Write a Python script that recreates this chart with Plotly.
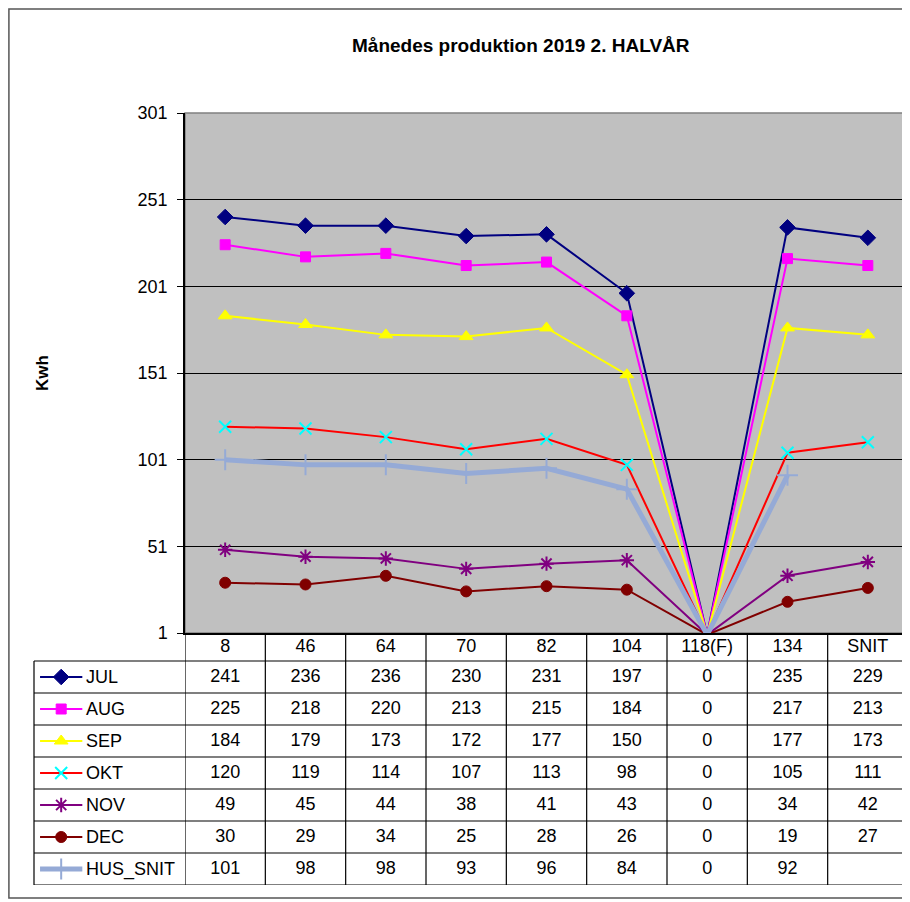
import plotly.graph_objects as go

categories = ["8", "46", "64", "70", "82", "104", "118(F)", "134", "SNIT"]
series_names = ["JUL", "AUG", "SEP", "OKT", "NOV", "DEC", "HUS_SNIT"]
jul = [241, 236, 236, 230, 231, 197, 0, 235, 229]
aug = [225, 218, 220, 213, 215, 184, 0, 217, 213]
sep = [184, 179, 173, 172, 177, 150, 0, 177, 173]
okt = [120, 119, 114, 107, 113, 98, 0, 105, 111]
nov = [49, 45, 44, 38, 41, 43, 0, 34, 42]
dec = [30, 29, 34, 25, 28, 26, 0, 19, 27]
hus_snit = [101, 98, 98, 93, 96, 84, 0, 92, None]
y_ticks = [1, 51, 101, 151, 201, 251, 301]

series_values = [jul, aug, sep, okt, nov, dec, hus_snit]

# Excel-like styles: line colour, line width, marker symbol, marker colour, marker size, marker outline
styles = [
    ("#000080", 2, "diamond", "#000080", 12, 1),
    ("#FF00FF", 2, "square", "#FF00FF", 10, 1),
    ("#FFFF00", 2, "triangle-up", "#FFFF00", 12, 1),
    ("#FF0000", 2, "x-thin-open", "#00FFFF", 12, 2),
    ("#800080", 2, "asterisk-open", "#800080", 12, 2),
    ("#800000", 2, "circle", "#800000", 11, 1),
    ("#95AAD6", 5, "cross-thin-open", "#95AAD6", 15, 2),
]

W, H = 910, 902
FONT = "Liberation Sans, Arial, sans-serif"
PAGE_OFFSET = 8  # the browser page adds an 8px body margin


def fx(p):
    return (p - PAGE_OFFSET) / W


def fy(p):
    return 1 - (p - PAGE_OFFSET) / H


# pixel frame of the chart (as seen in the reference)
PLOT_L, PLOT_R, PLOT_T, PLOT_B = 185, 908, 113, 633
TABLE_L, TABLE_B = 34, 885
HEADER_H, ROW_H = 28, 32
n_rows = len(series_names)

fig = go.Figure()

# lines in the plot area
for name, vals, (lc, lw, sym, mc, ms, mlw) in zip(series_names, series_values, styles):
    sizes = [ms if (v is not None and v >= y_ticks[0]) else 0 for v in vals]
    fig.add_trace(go.Scatter(
        x=categories, y=vals, name=name, mode="lines+markers",
        line=dict(color=lc, width=lw),
        marker=dict(symbol=sym, color=mc, size=sizes, opacity=1,
                    line=dict(color=mc, width=mlw)),
        connectgaps=False, showlegend=False, xaxis="x", yaxis="y",
    ))

# data table: header (category labels) and values
fig.add_trace(go.Scatter(
    x=categories, y=[-HEADER_H / ROW_H / 2] * len(categories), mode="text",
    text=categories, textfont=dict(family=FONT, size=18, color="black"),
    showlegend=False, xaxis="x2", yaxis="y2", hoverinfo="skip",
))
for i, vals in enumerate(series_values):
    fig.add_trace(go.Scatter(
        x=categories, y=[i + 0.5] * len(categories), mode="text",
        text=["" if v is None else str(v) for v in vals],
        textfont=dict(family=FONT, size=18, color="black"),
        showlegend=False, xaxis="x2", yaxis="y2", hoverinfo="skip",
    ))

# legend samples in the first table column
for i, (name, (lc, lw, sym, mc, ms, mlw)) in enumerate(zip(series_names, styles)):
    fig.add_trace(go.Scatter(
        x=[0.04, 0.18, 0.32], y=[i + 0.5] * 3, mode="lines+markers",
        line=dict(color=lc, width=lw),
        marker=dict(symbol=sym, color=mc, size=[0, ms, 0], opacity=1,
                    line=dict(color=mc, width=mlw)),
        showlegend=False, xaxis="x3", yaxis="y2", hoverinfo="skip",
    ))
    fig.add_annotation(x=0.33, y=i + 0.5, xref="x3", yref="y2", text=name,
                       showarrow=False, xanchor="left", yanchor="middle",
                       font=dict(family=FONT, size=18, color="black"))

shapes = []
# grey plot area
shapes.append(dict(type="rect", xref="x domain", yref="y domain", x0=0, x1=1, y0=0, y1=1,
                   fillcolor="#C0C0C0", line=dict(color="#808080", width=1.5), layer="below"))
# table row lines
for k in range(n_rows + 1):
    shapes.append(dict(type="line", xref="paper", yref="y2", x0=fx(TABLE_L), x1=fx(PLOT_R),
                       y0=k, y1=k, line=dict(color="black", width=1.2)))
# table column lines
for k in range(len(categories) + 1):
    shapes.append(dict(type="line", xref="x2", yref="y2", x0=k - 0.5, x1=k - 0.5,
                       y0=-HEADER_H / ROW_H, y1=n_rows, line=dict(color="black", width=1.2)))
shapes.append(dict(type="line", xref="paper", yref="y2", x0=fx(TABLE_L), x1=fx(TABLE_L),
                   y0=0, y1=n_rows, line=dict(color="black", width=1.2)))
# outer chart frame (left/top edges sit at the page edge)
shapes.append(dict(type="rect", xref="paper", yref="paper", x0=0.001, x1=fx(908), y0=fy(898), y1=0.999,
                   line=dict(color="#555555", width=1.5), fillcolor="rgba(0,0,0,0)"))

x_dom = [fx(PLOT_L), fx(PLOT_R)]
fig.update_layout(
    template="none",
    width=W, height=H,
    margin=dict(l=0, r=0, t=0, b=0, pad=0, autoexpand=False),
    paper_bgcolor="white", plot_bgcolor="rgba(0,0,0,0)",
    font=dict(family=FONT, size=18, color="black"),
    showlegend=False,
    shapes=shapes,
    xaxis=dict(domain=x_dom, type="category", categoryarray=categories,
               range=[-0.5, len(categories) - 0.5], showticklabels=False, ticks="",
               showgrid=False, showline=True, linecolor="black", linewidth=2,
               zeroline=False, anchor="y", automargin=False, fixedrange=True),
    yaxis=dict(domain=[fy(PLOT_B), fy(PLOT_T)], range=[y_ticks[0], y_ticks[-1]],
               tickvals=y_ticks, ticks="outside", ticklen=6, tickcolor="black",
               ticklabelstandoff=6,
               tickfont=dict(family=FONT, size=18, color="black"),
               showgrid=True, gridcolor="black", gridwidth=1,
               showline=True, linecolor="black", linewidth=1.5,
               zeroline=False, anchor="x", automargin=False, fixedrange=True),
    xaxis2=dict(domain=x_dom, type="category", categoryarray=categories,
                range=[-0.5, len(categories) - 0.5], visible=False, anchor="y2",
                automargin=False),
    yaxis2=dict(domain=[fy(TABLE_B), fy(PLOT_B)], range=[n_rows, -HEADER_H / ROW_H],
                visible=False, anchor="x2", automargin=False),
    xaxis3=dict(domain=[fx(TABLE_L), fx(PLOT_L)], range=[0, 1], visible=False, anchor="y2",
                automargin=False),
    annotations=list(fig.layout.annotations) + [
        dict(text="<b>Månedes produktion 2019 2. HALVÅR</b>", x=fx(521), y=fy(45),
             xref="paper", yref="paper", showarrow=False, xanchor="center", yanchor="middle",
             font=dict(family=FONT, size=19, color="black")),
        dict(text="<b>Kwh</b>", x=fx(42), y=fy(373), xref="paper", yref="paper",
             showarrow=False, textangle=-90, xanchor="center", yanchor="middle",
             font=dict(family=FONT, size=17, color="black")),
    ],
)

fig.write_html("out.html")
